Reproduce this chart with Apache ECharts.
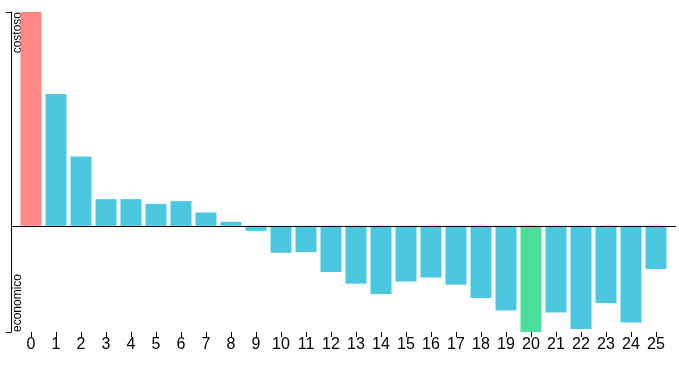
<!DOCTYPE html>
<html>
<head>
<meta charset="utf-8">
<script src="https://cdn.jsdelivr.net/npm/echarts@6/dist/echarts.min.js"></script>
<style>html,body{margin:0;padding:0;background:#fff}#c{width:679px;height:372px}</style>
</head>
<body>
<div id="c"></div>
<script>
var categories = [0,1,2,3,4,5,6,7,8,9,10,11,12,13,14,15,16,17,18,19,20,21,22,23,24,25];
var values = [214,132,69.3,26.7,26.7,22,24.7,13.3,4,-5,-27,-26.3,-46.3,-58,-68.3,-55.7,-51.7,-59,-72.3,-84.7,-106.3,-86.7,-103.3,-77.3,-96.7,-43.3];
var topLabel = 'costoso';
var bottomLabel = 'economico';

var yMax = Math.max.apply(null, values);
var yMin = Math.min.apply(null, values);
var FONT = '"Liberation Sans", Arial, sans-serif';

var chart = echarts.init(document.getElementById('c'), null, {renderer: 'canvas'});
var data = categories.map(function (c, i) { return [c, values[i]]; });

chart.setOption({
  animation: false,
  grid: {left: 11, right: 3, top: 12, bottom: 40, containLabel: false, outerBoundsMode: 'none'},
  xAxis: [{
    type: 'value',
    min: categories[0] - 0.8,
    max: categories[categories.length - 1] + 0.8,
    position: 'bottom',
    axisLine: {show: false, onZero: false},
    splitLine: {show: false},
    axisTick: {show: true, length: 5, customValues: categories, lineStyle: {color: '#000'}},
    axisLabel: {show: true, customValues: categories, margin: 5, fontSize: 16, color: '#000', fontFamily: FONT}
  }],
  yAxis: [{
    type: 'value',
    position: 'left',
    min: yMin, max: yMax,
    axisLine: {show: true, onZero: false, lineStyle: {color: '#000', width: 1}},
    splitLine: {show: false},
    axisTick: {show: true, length: 5, customValues: [yMin, yMax], lineStyle: {color: '#000'}},
    axisLabel: {
      show: true, customValues: [yMax], inside: true, rotate: 90, margin: 1,
      align: 'right', verticalAlign: 'top',
      fontSize: 12, color: '#000', fontFamily: FONT,
      formatter: function () { return topLabel; }
    }
  }, {
    type: 'value',
    position: 'left',
    min: yMin, max: yMax,
    axisLine: {show: false, onZero: false},
    splitLine: {show: false},
    axisTick: {show: false},
    axisLabel: {
      show: true, customValues: [yMin], inside: true, rotate: 90, margin: 1,
      align: 'left', verticalAlign: 'top',
      fontSize: 12, color: '#000', fontFamily: FONT,
      formatter: function () { return bottomLabel; }
    }
  }],
  series: [{
    type: 'bar',
    data: data,
    barWidth: 21,
    itemStyle: {
      color: function (p) {
        var v = p.value[1];
        if (v === yMax) return '#ff8884';
        if (v === yMin) return '#4cdf9b';
        return '#4bc8e0';
      }
    },
    markLine: {
      silent: true,
      symbol: ['none', 'none'],
      label: {show: false},
      lineStyle: {color: '#000', type: 'solid', width: 1},
      data: [{yAxis: 0}]
    }
  }]
});
</script>
</body>
</html>
